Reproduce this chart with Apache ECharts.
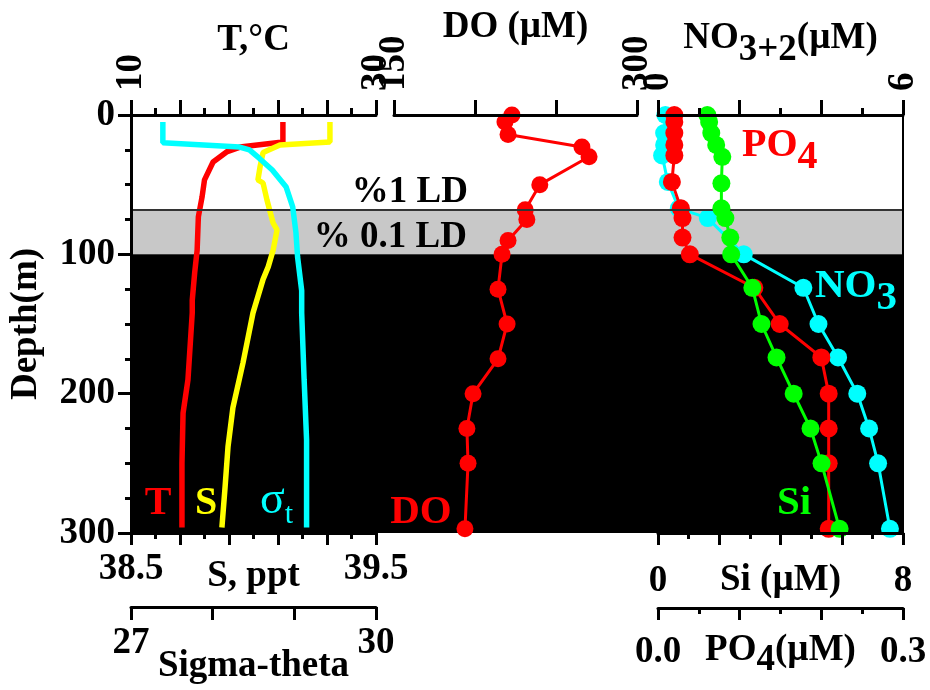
<!DOCTYPE html>
<html><head><meta charset="utf-8">
<script src="https://cdn.jsdelivr.net/npm/echarts@6/dist/echarts.min.js"></script>
<style>html,body{margin:0;padding:0;background:#fff}#c{width:930px;height:690px}</style>
</head><body><div id="c"></div>
<script>
// ---- CTD profiles (continuous lines) ----
const tDepth = [5, 19.4, 23, 26.5, 33.7, 46.6, 58.9, 73, 97, 113, 133, 142, 190, 214, 250, 296];
const tVal   = [22.4, 22.4, 18.9, 17.8, 16.7, 16.0, 15.8, 15.5, 15.4, 15.2, 15.0, 15.0, 14.65, 14.25, 14.16, 14.16];
const sDepth = [5, 19.4, 21.5, 27, 37, 46.6, 48.8, 61, 77.5, 82.5, 97, 109, 118, 142, 178, 210, 238, 267, 296];
const sVal   = [39.312, 39.312, 39.108, 39.039, 39.027, 39.018, 39.039, 39.055, 39.08, 39.096, 39.08, 39.06, 39.039, 38.998, 38.957, 38.916, 38.896, 38.884, 38.871];
const sigDepth = [5, 20, 23, 25, 31, 39.5, 51.7, 66, 84.5, 102, 126, 142, 190, 233, 296];
const sigVal   = [27.39, 27.39, 28.33, 28.45, 28.57, 28.73, 28.90, 28.98, 29.02, 29.04, 29.09, 29.09, 29.12, 29.15, 29.15];

// ---- Bottle data ----
const doDepth = [0, 5, 14, 23, 30, 50, 68, 75, 90, 100, 125, 150, 175, 200, 225, 250, 297];
const doVal   = [222.8, 218.5, 220.4, 266, 270.4, 240, 231, 232, 220.4, 216.7, 214.2, 219.8, 214.2, 198.8, 195, 195.7, 193.8];
const no3Depth = [0, 13, 21.5, 29, 48, 67, 74, 100, 124, 150, 174, 200, 225, 250, 297];
const no3Val   = [0.18, 0.15, 0.15, 0.10, 0.24, 0.51, 1.22, 2.10, 3.56, 3.93, 4.41, 4.88, 5.17, 5.39, 5.68];
const po4Depth = [0, 5, 13, 21.5, 29, 48, 67, 74, 88, 100, 124, 150, 174, 200, 225, 250, 297];
const po4Val   = [0.020, 0.020, 0.020, 0.020, 0.020, 0.017, 0.028, 0.030, 0.030, 0.039, 0.118, 0.149, 0.200, 0.209, 0.209, 0.209, 0.209];
const siDepth = [0, 5, 13, 21.5, 30, 49, 67, 74, 88, 100, 124, 150, 174, 200, 225, 250, 297];
const siVal   = [1.61, 1.67, 1.74, 1.90, 2.10, 2.07, 2.07, 2.20, 2.36, 2.39, 3.08, 3.38, 3.87, 4.43, 4.98, 5.34, 5.93];

// ---- light-depth bands ----
const ld1Depth = 68;
const ld01Depth = 100;
const maxDepth = 300;

// ---- ticks / labels ----
const tTicksMajor = [10, 14, 18, 22, 26, 30];
const tTicksMinor = [12, 16, 20, 24, 28];
const tLabels = [10, 30];
const sTicksMajor = [38.5, 38.7, 38.9, 39.1, 39.3, 39.5];
const sTicksMinor = [38.6, 38.8, 39.0, 39.2, 39.4];
const sLabels = [38.5, 39.5];
const sigLabels = [27, 30];
const doLabels = [150, 300];
const no3Labels = [0, 6];
const siLabels = [0, 8];
const po4Labels = [0, 0.3];

const FONT = 'Liberation Serif';
const FS = 37;
const txt = (size, color) => ({fontFamily: FONT, fontWeight: 'bold', fontSize: size || FS, color: color || '#000'});
const axLine = {show: true, lineStyle: {color: '#000', width: 3}};
const tickStyle = {color: '#000', width: 3};
const pair = (xs, ys) => xs.map((d, i) => [ys[i], d]);

function topAxis(grid, min, max, extra) {
  return Object.assign({
    gridIndex: grid, type: 'value', position: 'top', min: min, max: max,
    axisLine: axLine, splitLine: {show: false}, z: 10, nameMoveOverlap: false
  }, extra);
}
function minorOverlay(grid, pos, min, max, vals, len, offset) {
  return {
    gridIndex: grid, type: 'value', position: pos, min: min, max: max, offset: offset || 0,
    axisLine: {show: false}, splitLine: {show: false}, axisLabel: {show: false},
    axisTick: {show: true, customValues: vals, length: len, lineStyle: tickStyle}, z: 10
  };
}
const hiddenY = (g) => ({gridIndex: g, type: 'value', min: 0, max: maxDepth, inverse: true, show: false});

const option = {
  animation: false,
  backgroundColor: '#fff',
  grid: [
    {left: 131, top: 115, width: 772, height: 418, containLabel: false, outerBoundsMode: 'none'},
    {left: 131, top: 115, width: 245, height: 418, containLabel: false, outerBoundsMode: 'none'},
    {left: 394, top: 115, width: 243, height: 418, containLabel: false, outerBoundsMode: 'none'},
    {left: 658, top: 115, width: 245, height: 418, containLabel: false, outerBoundsMode: 'none'}
  ],
  xAxis: [
    {gridIndex: 0, type: 'value', min: 0, max: 1, show: false},
    topAxis(1, 10, 30, {
      axisTick: {show: true, customValues: tTicksMajor, length: 15, lineStyle: tickStyle},
      axisLabel: Object.assign({customValues: tLabels, rotate: 90, margin: 24}, txt()),
      name: 'T,°C', nameLocation: 'middle', nameGap: 56, nameTextStyle: txt()
    }),
    minorOverlay(1, 'top', 10, 30, tTicksMinor, 7),
    {
      gridIndex: 1, type: 'value', position: 'bottom', min: 38.5, max: 39.5,
      axisLine: axLine, splitLine: {show: false}, z: 10, nameMoveOverlap: false,
      axisTick: {show: true, customValues: sTicksMajor, length: 12, lineStyle: tickStyle},
      axisLabel: Object.assign({customValues: sLabels, margin: 18, formatter: v => v.toFixed(1)}, txt()),
      name: 'S, ppt', nameLocation: 'middle', nameGap: 25, nameTextStyle: txt()
    },
    minorOverlay(1, 'bottom', 38.5, 39.5, sTicksMinor, 6),
    {
      gridIndex: 1, type: 'value', position: 'bottom', offset: 74, min: 27, max: 30, interval: 1,
      axisLine: axLine, splitLine: {show: false}, z: 10, nameMoveOverlap: false,
      axisTick: {show: true, length: 13, lineStyle: tickStyle},
      axisLabel: Object.assign({customValues: sigLabels, margin: 18}, txt()),
      name: 'Sigma-theta', nameLocation: 'middle', nameGap: 41, nameTextStyle: txt()
    },
    topAxis(2, 150, 300, {
      interval: 50,
      axisTick: {show: true, length: 15, lineStyle: tickStyle},
      axisLabel: Object.assign({customValues: doLabels, rotate: 90, margin: 24}, txt()),
      name: 'DO (µM)', nameLocation: 'middle', nameGap: 69, nameTextStyle: txt()
    }),
    topAxis(3, 0, 6, {
      interval: 2,
      axisTick: {show: true, length: 15, lineStyle: tickStyle},
      minorTick: {show: true, splitNumber: 2, length: 7, lineStyle: tickStyle},
      axisLabel: Object.assign({customValues: no3Labels, rotate: 90, margin: 24}, txt()),
      name: '{a|NO}{b|3+2}{a|(µM)}', nameLocation: 'middle', nameGap: 46,
      nameTextStyle: Object.assign(txt(), {rich: {
        a: Object.assign(txt(), {verticalAlign: 'top'}),
        b: Object.assign(txt(), {verticalAlign: 'top', padding: [12, 0, 0, 0]})
      }})
    }),
    {
      gridIndex: 3, type: 'value', position: 'bottom', min: 0, max: 8, interval: 2,
      axisLine: axLine, splitLine: {show: false}, z: 10, nameMoveOverlap: false,
      axisTick: {show: true, length: 12, lineStyle: tickStyle},
      minorTick: {show: true, splitNumber: 2, length: 6, lineStyle: tickStyle},
      axisLabel: Object.assign({customValues: siLabels, margin: 30}, txt()),
      name: 'Si (µM)', nameLocation: 'middle', nameGap: 29, nameTextStyle: txt()
    },
    {
      gridIndex: 3, type: 'value', position: 'bottom', offset: 75, min: 0, max: 0.3, interval: 0.1,
      axisLine: axLine, splitLine: {show: false}, z: 10, nameMoveOverlap: false,
      axisTick: {show: true, length: 12, lineStyle: tickStyle},
      minorTick: {show: true, splitNumber: 2, length: 6, lineStyle: tickStyle},
      axisLabel: Object.assign({customValues: po4Labels, margin: 26, formatter: v => v.toFixed(1)}, txt()),
      name: '{a|PO}{b|4}{a|(µM)}', nameLocation: 'middle', nameGap: 24,
      nameTextStyle: Object.assign(txt(), {rich: {
        a: Object.assign(txt(), {verticalAlign: 'top'}),
        b: Object.assign(txt(), {verticalAlign: 'top', padding: [10, 0, 0, 0]})
      }})
    }
  ],
  yAxis: [
    {
      gridIndex: 0, type: 'value', position: 'left', min: 0, max: maxDepth, interval: 100, inverse: true,
      axisLine: axLine, splitLine: {show: false}, z: 10, nameMoveOverlap: false,
      axisTick: {show: true, length: 13, lineStyle: tickStyle},
      minorTick: {show: true, splitNumber: 4, length: 6, lineStyle: tickStyle},
      axisLabel: Object.assign({margin: 16}, txt()),
      name: 'Depth(m)', nameLocation: 'middle', nameGap: 86, nameRotate: 90, nameTextStyle: txt()
    },
    {
      gridIndex: 0, type: 'value', position: 'right', min: 0, max: maxDepth, inverse: true,
      axisLine: {show: true, lineStyle: {color: '#000', width: 2}}, axisTick: {show: false},
      axisLabel: {show: false}, splitLine: {show: false}, z: 10
    },
    hiddenY(1), hiddenY(2), hiddenY(3)
  ],
  series: [
    {
      type: 'line', xAxisIndex: 0, yAxisIndex: 0, data: [], z: 1, silent: true,
      markArea: {silent: true, data: [
        [{yAxis: ld1Depth, itemStyle: {color: '#c8c8c8'}}, {yAxis: ld01Depth}],
        [{yAxis: ld01Depth, itemStyle: {color: '#000000'}}, {yAxis: maxDepth}]
      ]},
      markLine: {silent: true, symbol: 'none', label: {show: false},
        lineStyle: {color: '#333', width: 2, type: 'solid'}, data: [{yAxis: ld1Depth}]}
    },
    {name: 'T', type: 'line', xAxisIndex: 1, yAxisIndex: 2, data: pair(tDepth, tVal), symbol: 'none',
      lineStyle: {color: '#ff0000', width: 5.5}, z: 3},
    {name: 'S', type: 'line', xAxisIndex: 3, yAxisIndex: 2, data: pair(sDepth, sVal), symbol: 'none',
      lineStyle: {color: '#ffff00', width: 5.5}, z: 4},
    {name: 'Sigma', type: 'line', xAxisIndex: 5, yAxisIndex: 2, data: pair(sigDepth, sigVal), symbol: 'none',
      lineStyle: {color: '#00ffff', width: 5.5}, z: 5},
    {name: 'DO', type: 'line', xAxisIndex: 6, yAxisIndex: 3, data: pair(doDepth, doVal), symbol: 'circle', symbolSize: 17,
      itemStyle: {color: '#ff0000'}, lineStyle: {color: '#ff0000', width: 3}, z: 3},
    {name: 'NO3', type: 'line', xAxisIndex: 7, yAxisIndex: 4, data: pair(no3Depth, no3Val), symbol: 'circle', symbolSize: 18,
      itemStyle: {color: '#00ffff'}, lineStyle: {color: '#00ffff', width: 3}, z: 3},
    {name: 'PO4', type: 'line', xAxisIndex: 9, yAxisIndex: 4, data: pair(po4Depth, po4Val), symbol: 'circle', symbolSize: 18,
      itemStyle: {color: '#ff0000'}, lineStyle: {color: '#ff0000', width: 3}, z: 4},
    {name: 'Si', type: 'line', xAxisIndex: 8, yAxisIndex: 4, data: pair(siDepth, siVal), symbol: 'circle', symbolSize: 18,
      itemStyle: {color: '#00ff00'}, lineStyle: {color: '#00ff00', width: 3}, z: 5}
  ],
  graphic: [
    {type: 'text', x: 158, y: 504, z: 20, style: {text: 'T', fill: '#ff0000', font: 'bold 40px "Liberation Serif"', align: 'center', verticalAlign: 'middle'}},
    {type: 'text', x: 206, y: 504, z: 20, style: {text: 'S', fill: '#ffff00', font: 'bold 40px "Liberation Serif"', align: 'center', verticalAlign: 'middle'}},
    {type: 'text', x: 260, y: 478, z: 20, style: {text: '{a|σ}{b|t}', fill: '#00ffff', align: 'left', verticalAlign: 'top',
      rich: {a: {fill: '#00ffff', fontSize: 46, fontFamily: FONT, verticalAlign: 'top'},
             b: {fill: '#00ffff', fontSize: 30, fontFamily: FONT, verticalAlign: 'top', padding: [22, 0, 0, 0]}}}},
    {type: 'text', x: 421, y: 512, z: 20, style: {text: 'DO', fill: '#ff0000', font: 'bold 41px "Liberation Serif"', align: 'center', verticalAlign: 'middle'}},
    {type: 'text', x: 742, y: 126, z: 20, style: {text: '{a|PO}{b|4}', fill: '#ff0000', align: 'left', verticalAlign: 'top',
      rich: {a: {fill: '#ff0000', fontSize: 40, fontWeight: 'bold', fontFamily: FONT, verticalAlign: 'top'},
             b: {fill: '#ff0000', fontSize: 40, fontWeight: 'bold', fontFamily: FONT, verticalAlign: 'top', padding: [12, 0, 0, 0]}}}},
    {type: 'text', x: 815, y: 266, z: 20, style: {text: '{a|NO}{b|3}', fill: '#00ffff', align: 'left', verticalAlign: 'top',
      rich: {a: {fill: '#00ffff', fontSize: 41, fontWeight: 'bold', fontFamily: FONT, verticalAlign: 'top'},
             b: {fill: '#00ffff', fontSize: 41, fontWeight: 'bold', fontFamily: FONT, verticalAlign: 'top', padding: [12, 0, 0, 0]}}}},
    {type: 'text', x: 794, y: 503, z: 20, style: {text: 'Si', fill: '#00ff00', font: 'bold 41px "Liberation Serif"', align: 'center', verticalAlign: 'middle'}},
    {type: 'text', x: 468, y: 192, z: 20, style: {text: '%1 LD', fill: '#000', font: 'bold 37px "Liberation Serif"', align: 'right', verticalAlign: 'middle'}},
    {type: 'text', x: 467, y: 237, z: 20, style: {text: '% 0.1 LD', fill: '#000', font: 'bold 37px "Liberation Serif"', align: 'right', verticalAlign: 'middle'}}
  ]
};

const chart = echarts.init(document.getElementById('c'), null, {renderer: 'canvas'});
chart.setOption(option);
</script>
</body></html>
